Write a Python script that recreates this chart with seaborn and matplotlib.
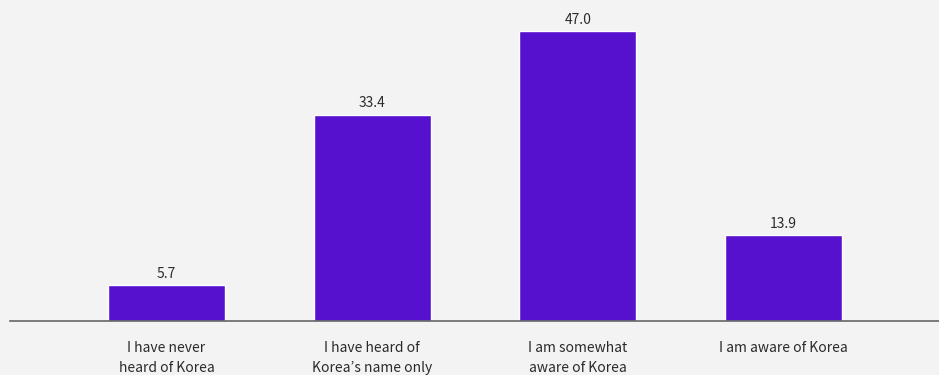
import matplotlib
matplotlib.use("Agg")
import matplotlib.pyplot as plt
import seaborn as sns
import pandas as pd

categories = ["I have never\nheard of Korea", "I have heard of\nKorea\u2019s name only",
              "I am somewhat\naware of Korea", "I am aware of Korea"]
values = [5.7, 33.4, 47.0, 13.9]

sns.set_theme(style="white")
plt.rcParams['font.family'] = ['Noto Sans CJK KR', 'DejaVu Sans']

bg = "#f3f3f3"
bar_color = "#5611CF"
text_color = "#2b2b2b"

df = pd.DataFrame({"category": categories, "value": values})

fig = plt.figure(figsize=(9.39, 3.75), dpi=100, facecolor=bg)
ax = fig.add_axes([10/939, (375-320.5)/375, 929/939, 320.5/375])
ax.set_facecolor(bg)

sns.barplot(data=df, x="category", y="value", color=bar_color, width=0.568,
            saturation=1, ax=ax)

for p, v in zip(ax.patches, values):
    ax.annotate(f"{v:.1f}", (p.get_x() + p.get_width()/2, p.get_height()),
                xytext=(0, 3), textcoords="offset points", ha="center", va="bottom",
                fontsize=10, color=text_color)

ax.set_xlim(-0.76, 3.755)
ax.set_ylim(0, 52)
ax.set_xlabel("")
ax.set_ylabel("")
ax.set_yticks([])
for s in ["top", "right", "left"]:
    ax.spines[s].set_visible(False)
ax.spines["bottom"].set_color("#666666")
ax.spines["bottom"].set_linewidth(1.2)
ax.tick_params(axis="x", length=0, pad=15, labelsize=10, labelcolor=text_color)
for t in ax.get_xticklabels():
    t.set_linespacing(1.55)

fig.savefig("out.png", dpi=100, facecolor=bg)
